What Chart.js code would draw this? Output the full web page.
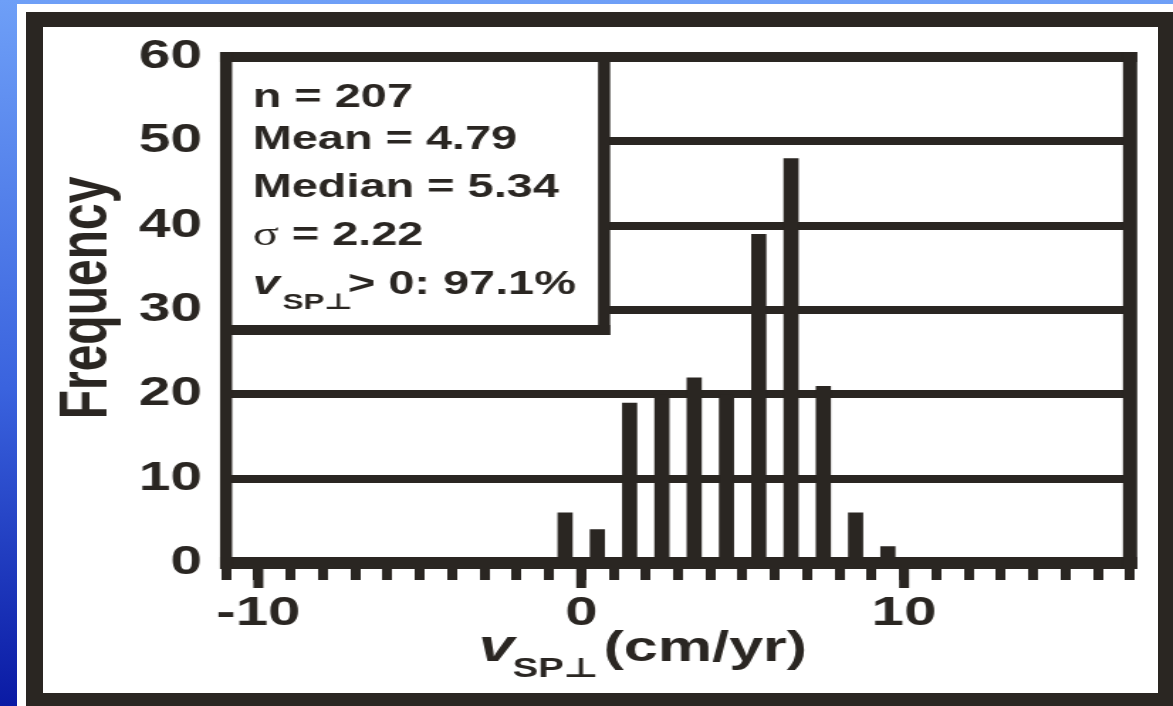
<!DOCTYPE html>
<html>
<head>
<meta charset="utf-8">
<script src="https://cdn.jsdelivr.net/npm/chart.js@4.4.0/dist/chart.umd.min.js"></script>
<style>
  html, body { margin: 0; padding: 0; width: 1173px; height: 706px; overflow: hidden; }
  body { position: relative; background: linear-gradient(#6e9ff7, #3a63de 55%, #0a1aa4); }
  #panel { position: absolute; left: 17px; top: 4px; right: 0; bottom: 0; background: #fff; }
  #frame { position: absolute; left: 26px; top: 12px; width: 1147px; height: 694px; box-sizing: border-box;
           border: solid #2a2622; border-width: 15px 15px 13px 17px; }
  /* the original picture is stretched sideways, so draw narrow and scale */
  #wrap { position: absolute; left: 0; top: 0; width: 826px; height: 706px; transform: scaleX(1.42); transform-origin: 0 0; }
</style>
</head>
<body>
<div id="panel"></div>
<div id="frame"></div>
<div id="wrap"><canvas id="histChart"></canvas></div>
<script>
// data
const binCenters = [-0.5, 0.5, 1.5, 2.5, 3.5, 4.5, 5.5, 6.5, 7.5, 8.5, 9.5];
const counts = [6, 4, 19, 20, 22, 20, 39, 48, 21, 6, 2];
const yTickValues = [0, 10, 20, 30, 40, 50, 60];
const xLabelValues = [-10, 0, 10];
const statLines = ['n = 207', 'Mean = 4.79', 'Median = 5.34'];
const sigmaText = ' = 2.22';
const positiveText = '> 0: 97.1%';
const subText = 'SP\u22A5';
const xUnitText = '(cm/yr)';
const yTitleText = 'Frequency';

const INK = '#2a2622';
const FONT = '"Liberation Sans", Arial, "DejaVu Sans", sans-serif';

const overlay = {
  id: 'overlay',
  afterDraw(chart) {
    const ctx = chart.ctx;
    const a = chart.chartArea;
    const xs = chart.scales.x;
    ctx.save();
    ctx.fillStyle = INK;
    ctx.textBaseline = 'alphabetic';
    ctx.textAlign = 'left';

    // stats box
    const boxRight = 425.4, boxBottom = 330;
    ctx.fillStyle = '#fff';
    ctx.fillRect(a.left, a.top, boxRight - a.left, boxBottom - a.top);
    ctx.fillStyle = INK;
    ctx.fillRect(boxRight - 4.25, a.top, 8.5, boxBottom - a.top + 5);
    ctx.fillRect(a.left, boxBottom - 5, boxRight - a.left + 4.25, 10);

    const tx = 178;
    const baselines = [107, 149, 197, 245, 294];
    ctx.font = 'bold 33px ' + FONT;
    statLines.forEach((s, i) => ctx.fillText(s, tx, baselines[i]));
    ctx.font = '34px "Liberation Serif", "DejaVu Serif", serif';
    ctx.fillText('\u03C3', tx, baselines[3]);
    const sw = ctx.measureText('\u03C3').width;
    ctx.font = 'bold 33px ' + FONT;
    ctx.fillText(sigmaText, tx + sw, baselines[3]);
    ctx.font = 'italic bold 34px ' + FONT;
    ctx.fillText('v', tx, baselines[4]);
    ctx.font = 'bold 22px ' + FONT;
    ctx.fillText(subText, 199, baselines[4] + 15);
    ctx.font = 'bold 33px ' + FONT;
    ctx.fillText(positiveText, 245, baselines[4]);

    // plot frame
    ctx.fillRect(a.left - 4.25, a.top - 5, a.right - a.left + 9.25, 10);
    ctx.fillRect(a.left - 4.25, a.bottom - 6, a.right - a.left + 9.25, 12);
    ctx.fillRect(a.left - 4.25, a.top - 5, 8.5, a.bottom - a.top + 11);
    ctx.fillRect(a.right - 5, a.top - 5, 10, a.bottom - a.top + 11);

    // longer major ticks
    xLabelValues.forEach(v => {
      const px = xs.getPixelForValue(v);
      ctx.fillRect(px - 3.5, a.bottom + 6, 7, 19);
    });

    // x title
    ctx.font = 'italic bold 45px ' + FONT;
    ctx.fillText('v', 337, 661);
    ctx.font = 'bold 27px ' + FONT;
    ctx.fillText(subText, 361, 677);
    ctx.font = 'bold 43px ' + FONT;
    ctx.fillText(xUnitText, 425, 661);

    // y title
    ctx.translate(62, 298);
    ctx.rotate(-Math.PI / 2);
    ctx.textAlign = 'center';
    ctx.textBaseline = 'middle';
    ctx.font = 'bold 48px ' + FONT;
    ctx.fillText(yTitleText, 0, 0);
    ctx.restore();
  }
};

new Chart(document.getElementById('histChart'), {
  type: 'bar',
  data: {
    datasets: [{
      data: binCenters.map((x, i) => ({ x: x, y: counts[i] })),
      backgroundColor: INK,
      borderWidth: 0,
      categoryPercentage: 1,
      barPercentage: 0.47
    }]
  },
  options: {
    responsive: true,
    maintainAspectRatio: false,
    animation: false,
    events: [],
    layout: { padding: { left: 0, top: 57, right: 30.2, bottom: 0 } },
    plugins: { legend: { display: false }, tooltip: { enabled: false } },
    scales: {
      x: {
        type: 'linear',
        min: -11,
        max: 17,
        offset: false,
        afterFit: s => { s.height = 143; },
        border: { display: false },
        grid: { offset: false, drawOnChartArea: false, drawTicks: true, tickLength: 17, tickWidth: 7, tickColor: INK },
        ticks: {
          stepSize: 1,
          autoSkip: false,
          maxRotation: 0,
          padding: 9,
          color: INK,
          font: { family: FONT, size: 41, weight: 'bold' },
          callback: v => xLabelValues.includes(v) ? String(v) : ''
        }
      },
      y: {
        min: 0,
        max: 60,
        afterFit: s => { s.width = 159.2; },
        afterBuildTicks: s => { s.ticks = yTickValues.map(v => ({ value: v })); },
        border: { display: false },
        grid: {
          drawTicks: false,
          color: INK,
          lineWidth: c => (c.tick.value === 0 || c.tick.value === 60) ? 0 : 8
        },
        ticks: {
          padding: 17,
          color: INK,
          font: { family: FONT, size: 40, weight: 'bold' }
        }
      }
    }
  },
  plugins: [overlay]
});
</script>
</body>
</html>
